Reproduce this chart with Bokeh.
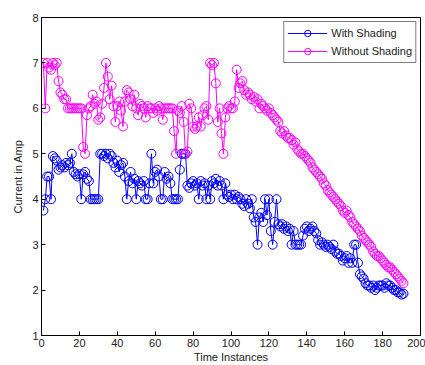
from bokeh.plotting import figure
from bokeh.models import Range1d, FixedTicker
from bokeh.embed import file_html
from bokeh.resources import INLINE

time_instances = list(range(1, 192))

with_shading = [
    3.75, 4.0, 4.5, 4.5, 4.0, 4.95, 4.9, 4.85, 4.65, 4.7,
    4.75, 4.7, 4.8, 4.75, 4.8, 5.0, 4.6, 4.55, 4.5, 4.55,
    4.0, 4.55, 4.6, 4.45, 4.4, 4.0, 4.0, 4.0, 4.0, 4.0,
    5.0, 5.0, 4.95, 5.0, 4.9, 5.0, 4.95, 4.8, 4.7, 4.85,
    4.6, 4.75, 4.8, 4.5, 4.0, 4.4, 4.6, 4.35, 4.45, 4.0,
    4.4, 4.35, 4.3, 4.4, 4.0, 4.0, 4.35, 5.0, 4.35, 4.6,
    4.65, 4.5, 4.0, 4.0, 4.6, 4.45, 4.5, 4.35, 4.0, 4.0,
    4.0, 4.0, 4.65, 5.0, 5.0, 5.0, 4.3, 4.25, 4.35, 4.4,
    4.3, 4.35, 4.0, 4.4, 4.3, 4.35, 4.0, 4.3, 4.0, 4.4,
    4.35, 4.45, 4.3, 4.4, 4.3, 4.0, 4.35, 4.1, 4.05, 4.1,
    4.0, 4.1, 4.0, 4.05, 4.0, 3.9, 3.85, 4.0, 3.9, 3.8,
    4.0, 3.6, 3.5, 3.0, 3.6, 3.7, 3.5, 4.0, 3.65, 4.0,
    3.3, 3.0, 3.5, 4.0, 3.45, 3.4, 3.45, 3.35, 3.4, 3.3,
    3.35, 3.0, 3.3, 3.0, 3.0, 3.0, 3.0, 3.2, 3.35, 3.4,
    3.3, 3.35, 3.4, 3.3, 3.25, 3.1, 3.0, 3.05, 3.0, 2.95,
    3.0, 2.95, 2.9, 3.0, 2.85, 2.8, 2.8, 2.75, 2.65, 2.7,
    2.75, 2.6, 2.7, 2.6, 3.0, 3.0, 2.6, 2.35, 2.3, 2.25,
    2.15, 2.1, 2.1, 2.05, 2.1, 2.0, 2.05, 2.1, 2.1, 2.1,
    2.05, 2.15, 2.1, 2.1, 2.05, 2.0, 2.0, 1.95, 1.95, 1.9,
    1.92,
]

without_shading = [
    7.0, 6.0, 7.0, 6.9, 6.85, 7.0, 6.95, 7.0, 6.6, 6.35,
    6.3, 6.2, 6.2, 6.0, 6.0, 6.0, 6.0, 6.0, 6.0, 6.0,
    6.0, 5.15, 5.0, 5.85, 6.0, 6.05, 6.3, 6.1, 6.15, 5.75,
    5.8, 6.1, 6.45, 7.0, 6.7, 6.2, 6.5, 6.05, 5.7, 6.05,
    6.15, 5.95, 5.6, 6.15, 6.4, 6.35, 6.2, 6.05, 6.3, 6.0,
    5.85, 6.1, 6.05, 6.0, 5.8, 6.05, 6.0, 6.0, 5.9, 6.0,
    5.95, 6.05, 6.0, 5.75, 6.0, 6.0, 6.0, 6.0, 6.0, 5.5,
    5.0, 5.95, 5.9, 6.05, 5.7, 5.0, 5.05, 6.1, 6.0, 5.6,
    5.55, 5.6, 5.8, 5.6, 5.85, 6.0, 6.05, 5.75, 7.0, 6.95,
    7.0, 6.55, 5.7, 6.0, 5.45, 5.0, 5.8, 6.0, 6.05, 6.0,
    6.0, 6.15, 6.85, 6.45, 6.55, 6.6, 6.4, 6.3, 6.35, 6.3,
    6.2, 6.25, 6.15, 6.2, 6.0, 6.1, 6.05, 6.0, 5.95, 6.0,
    5.9, 5.85, 5.8, 5.75, 5.7, 5.5, 5.45, 5.5, 5.4, 5.35,
    5.35, 5.3, 5.2, 5.25, 5.1, 5.05, 5.0, 5.0, 4.95, 4.9,
    4.85, 4.8, 4.7, 4.65, 4.6, 4.55, 4.5, 4.45, 4.35, 4.3,
    4.2, 4.15, 4.1, 4.05, 4.0, 3.95, 3.9, 3.85, 3.75, 3.7,
    3.75, 3.65, 3.6, 3.5, 3.45, 3.4, 3.35, 3.3, 3.2, 3.15,
    3.1, 3.05, 3.0, 2.95, 2.85, 2.8, 2.75, 2.75, 2.7, 2.65,
    2.6, 2.55, 2.5, 2.5, 2.45, 2.4, 2.35, 2.3, 2.25, 2.2,
    2.15,
]

x_ticks = [0, 20, 40, 60, 80, 100, 120, 140, 160, 180, 200]
y_ticks = [1, 2, 3, 4, 5, 6, 7, 8]

FONT = "Liberation Sans"
TEXT_COLOR = "#222222"

p = figure(width=425, height=365, output_backend="svg", toolbar_location=None,
           x_range=Range1d(0, 200), y_range=Range1d(1, 8),
           min_border_left=41, min_border_right=5, min_border_top=17,
           min_border_bottom=28)

p.grid.visible = False
p.outline_line_color = "black"
p.outline_line_width = 1
p.background_fill_color = "white"
p.border_fill_color = "white"

p.xaxis.ticker = FixedTicker(ticks=x_ticks)
p.yaxis.ticker = FixedTicker(ticks=y_ticks)
for ax in (p.xaxis[0], p.yaxis[0]):
    ax.major_tick_in = 4
    ax.major_tick_out = 0
    ax.minor_tick_line_color = None
    ax.axis_line_color = "black"
    ax.major_label_text_font = FONT
    ax.major_label_text_font_size = "11px"
    ax.major_label_text_color = TEXT_COLOR
    ax.major_label_standoff = 3
    ax.axis_label_text_font = FONT
    ax.axis_label_text_font_size = "11px"
    ax.axis_label_text_font_style = "normal"
    ax.axis_label_text_color = TEXT_COLOR

p.xaxis.axis_label = "Time Instances"
p.xaxis.axis_label_standoff = 1
p.yaxis.axis_label = "Current in Amp"
p.yaxis.axis_label_standoff = 5

blue = "#0000ff"
magenta = "#ff00ff"

p.line(time_instances, with_shading, line_color=blue, line_width=1, legend_label="With Shading")
p.scatter(time_instances, with_shading, marker="circle", size=9, fill_color=None,
          line_color=blue, line_width=1, legend_label="With Shading")
p.line(time_instances, without_shading, line_color=magenta, line_width=1, legend_label="Without Shading")
p.scatter(time_instances, without_shading, marker="circle", size=9, fill_color=None,
          line_color=magenta, line_width=1, legend_label="Without Shading")

lg = p.legend[0]
lg.location = "top_right"
lg.margin = 4
lg.padding = 3
lg.spacing = 2
lg.glyph_width = 40
lg.glyph_height = 16
lg.label_height = 16
lg.label_standoff = 4
lg.label_text_font = FONT
lg.label_text_font_size = "11px"
lg.label_text_color = TEXT_COLOR
lg.border_line_color = "black"
lg.border_line_width = 1
lg.background_fill_color = "white"
lg.background_fill_alpha = 1.0

open("out.html", "w").write(file_html(p, INLINE))
